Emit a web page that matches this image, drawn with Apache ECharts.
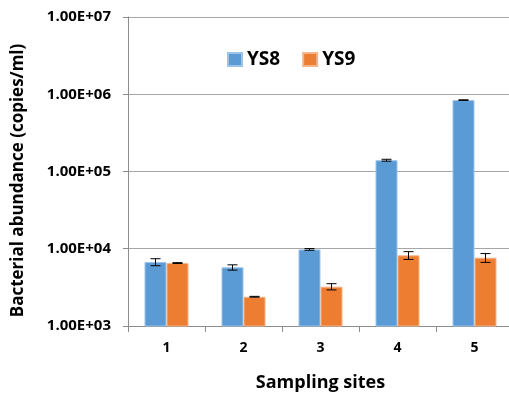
<!DOCTYPE html>
<html>
<head>
<meta charset="utf-8">
<script src="https://cdn.jsdelivr.net/npm/echarts@6/dist/echarts.min.js"></script>
<style>
  html, body { margin: 0; padding: 0; background: #fff; }
  #chart { width: 509px; height: 393px; }
</style>
</head>
<body>
<div id="chart"></div>
<script>
// Sampling sites and bacterial abundance per strain (copies/ml)
const sites = ['1', '2', '3', '4', '5'];
const ys8 = [6730, 5740, 9800, 140000, 840000];
const ys8Err = [700, 450, 250, 4000, 8000];
const ys9 = [6530, 2390, 3230, 8220, 7660];
const ys9Err = [80, 30, 300, 950, 1000];
const yTicks = ['1.00E+03', '1.00E+04', '1.00E+05', '1.00E+06', '1.00E+07'];

const FONT = '"Open Sans", "DejaVu Sans", sans-serif';
const BAR_W = 22;

// Builds a custom series that draws error whiskers over one bar series
function errorSeries(values, errs, offset) {
  return {
    type: 'custom',
    silent: true,
    z: 10,
    data: values.map((v, i) => [i, v - errs[i], v + errs[i]]),
    renderItem: function (params, api) {
      const i = api.value(0);
      const lo = api.coord([i, api.value(1)]);
      const hi = api.coord([i, api.value(2)]);
      const x = lo[0] + offset;
      const cap = 5;
      const style = { stroke: '#000', lineWidth: 1 };
      return {
        type: 'group',
        children: [
          { type: 'line', shape: { x1: x, y1: lo[1], x2: x, y2: hi[1] }, style },
          { type: 'line', shape: { x1: x - cap, y1: lo[1], x2: x + cap, y2: lo[1] }, style },
          { type: 'line', shape: { x1: x - cap, y1: hi[1], x2: x + cap, y2: hi[1] }, style }
        ]
      };
    }
  };
}

const chart = echarts.init(document.getElementById('chart'));
chart.setOption({
  animation: false,
  backgroundColor: '#fff',
  textStyle: { fontFamily: FONT },
  grid: {
    left: 128, top: 17, width: 385, height: 309,
    containLabel: false,
    outerBoundsMode: 'none'
  },
  legend: {
    left: 222,
    top: 45,
    itemWidth: 14,
    itemHeight: 13,
    itemGap: 22,
    icon: 'rect',
    textStyle: { fontFamily: FONT, fontSize: 19, fontWeight: 'bold', color: '#000' },
    data: ['YS8', 'YS9']
  },
  xAxis: {
    type: 'category',
    data: sites,
    name: 'Sampling sites',
    nameLocation: 'middle',
    nameGap: 48,
    nameTextStyle: { fontFamily: FONT, fontSize: 18, fontWeight: 'bold', color: '#000' },
    axisLine: { lineStyle: { color: '#8c8c8c', width: 1 } },
    axisTick: { show: true, length: 6, alignWithLabel: false, lineStyle: { color: '#8c8c8c' } },
    axisLabel: { fontFamily: FONT, fontSize: 14, fontWeight: 'bold', color: '#000', margin: 15 }
  },
  yAxis: {
    type: 'log',
    logBase: 10,
    min: 1000,
    max: 10000000,
    name: 'Bacterial abundance (copies/ml)',
    nameLocation: 'middle',
    nameGap: 101,
    nameRotate: 90,
    nameTextStyle: { fontFamily: FONT, fontSize: 17, fontWeight: 'bold', color: '#000', padding: [0, 18, 0, 0] },
    axisLine: { show: true, lineStyle: { color: '#8c8c8c', width: 1 } },
    axisTick: { show: true, length: 5, lineStyle: { color: '#8c8c8c' } },
    splitLine: { show: true, lineStyle: { color: '#a6a6a6', width: 1 } },
    axisLabel: {
      fontFamily: FONT, fontSize: 15, fontWeight: 'bold', color: '#000', margin: 17,
      formatter: function (v) {
        const k = Math.round(Math.log10(v)) - 3;
        return yTicks[k] !== undefined ? yTicks[k] : '';
      }
    }
  },
  series: [
    {
      name: 'YS8', type: 'bar', data: ys8, barWidth: BAR_W, barGap: '0%',
      itemStyle: { color: '#5B9BD5', borderColor: '#9cc3e8', borderWidth: 1 }
    },
    {
      name: 'YS9', type: 'bar', data: ys9, barWidth: BAR_W, barGap: '0%',
      itemStyle: { color: '#ED7D31', borderColor: '#f5b48a', borderWidth: 1 }
    },
    errorSeries(ys8, ys8Err, -BAR_W / 2),
    errorSeries(ys9, ys9Err, BAR_W / 2)
  ]
});
</script>
</body>
</html>
